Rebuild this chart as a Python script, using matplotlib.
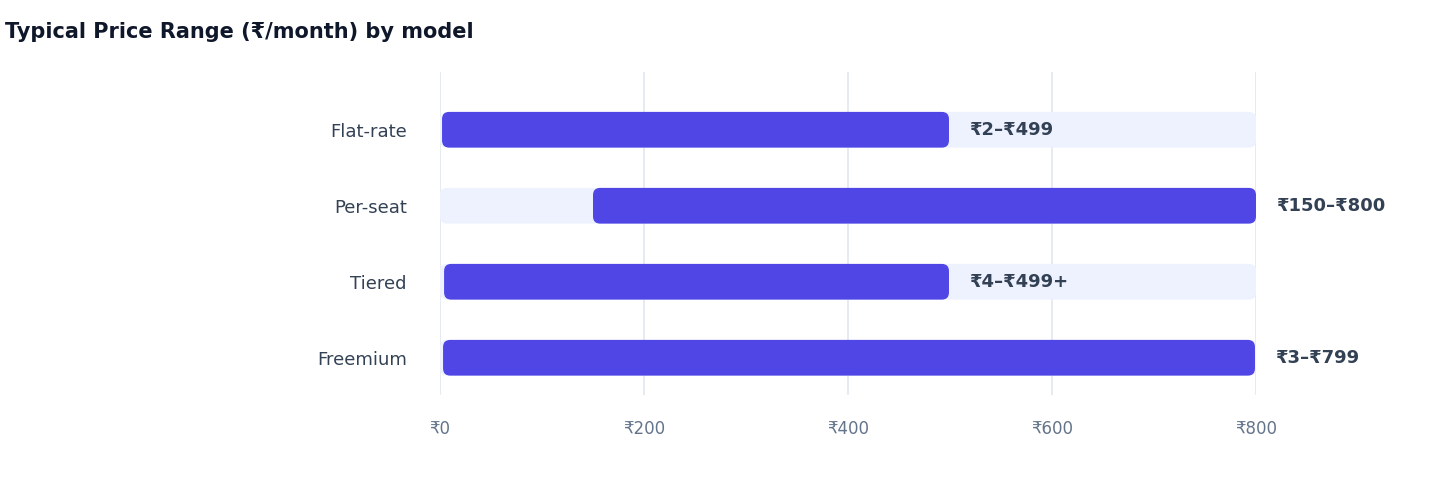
import matplotlib
matplotlib.use("Agg")
import matplotlib.pyplot as plt
from matplotlib.patches import FancyBboxPatch

plt.rcParams['font.family'] = ['DejaVu Sans']

categories = ["Flat-rate", "Per-seat", "Tiered", "Freemium"]
lows = [2, 150, 4, 3]
highs = [499, 800, 499, 799]
labels = ["₹2–₹499", "₹150–₹800", "₹4–₹499+", "₹3–₹799"]
ticks = [0, 200, 400, 600, 800]
tick_labels = ["₹0", "₹200", "₹400", "₹600", "₹800"]
xmax = 800

fig = plt.figure(figsize=(14.4, 4.84), dpi=100)
ax = fig.add_axes([440/1440, 1-395/484, 816/1440, 323/484])
ax.set_xlim(0, xmax)
ax.set_ylim(-0.49, 3.76)
ypos = [3, 2, 1, 0]
h = 0.47
asp = (4.25/323) / (800/816)
for y, lo, hi, lab in zip(ypos, lows, highs, labels):
    ax.add_patch(FancyBboxPatch((0, y-h/2), xmax, h, boxstyle="round,pad=0,rounding_size=7",
                                mutation_aspect=asp, fc="#EEF2FF", ec="none", zorder=1))
    ax.add_patch(FancyBboxPatch((lo, y-h/2), hi-lo, h, boxstyle="round,pad=0,rounding_size=7",
                                mutation_aspect=asp, fc="#4F46E5", ec="none", zorder=2))
    ax.text(hi+20, y, lab, va="center", ha="left", fontsize=13, fontweight="bold",
            color="#334155", zorder=3)
ax.set_yticks(ypos)
ax.set_yticklabels(categories, fontsize=13, color="#334155")
ax.set_xticks(ticks)
ax.set_xticklabels(tick_labels, fontsize=12, color="#64748B")
ax.tick_params(length=0)
ax.tick_params(axis='y', pad=24)
ax.tick_params(axis='x', pad=18)
ax.grid(axis='x', color="#E2E8F0", lw=1.2, zorder=0)
ax.set_axisbelow(True)
for s in ax.spines.values():
    s.set_visible(False)
fig.text(5/1440, 1-32/484, "Typical Price Range (₹/month) by model", fontsize=15,
         fontweight="bold", color="#0F172A", va="center", ha="left")
fig.savefig("out.png", dpi=100)
